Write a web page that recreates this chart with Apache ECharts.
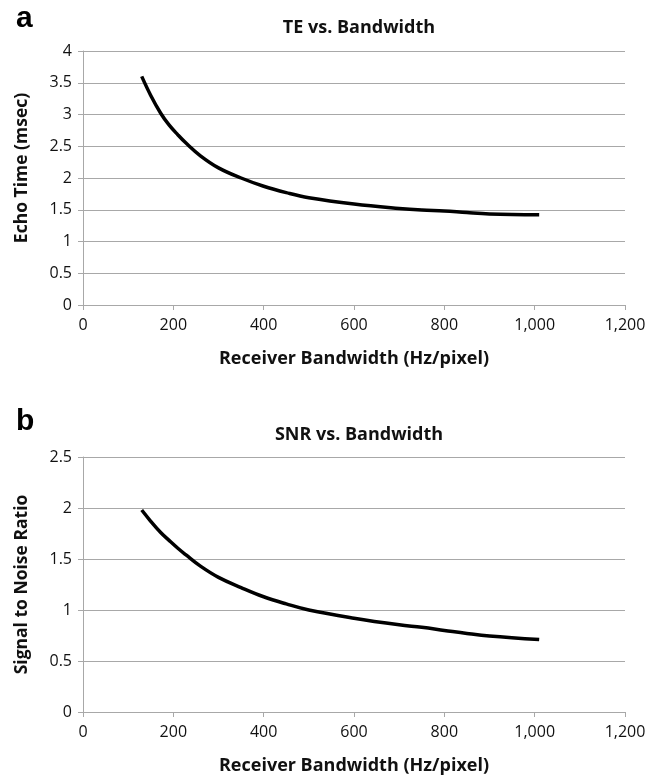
<!DOCTYPE html>
<html>
<head>
<meta charset="utf-8">
<title>TE and SNR vs. Bandwidth</title>
<script src="https://cdn.jsdelivr.net/npm/echarts@6/dist/echarts.min.js"></script>
<style>
  html, body { margin: 0; padding: 0; background: #fff; }
  #chart { width: 662px; height: 779px; }
</style>
</head>
<body>
<div id="chart"></div>
<script>
  // bandwidth (Hz/pixel) sample points
  const bandwidth = [130, 150, 172, 190, 210, 228, 260, 300, 350, 400, 450, 500, 600, 700, 750, 800, 850, 900, 1010];
  const echoTime  = [3.6, 3.3, 3.02, 2.84, 2.68, 2.55, 2.35, 2.16, 2.0, 1.87, 1.77, 1.69, 1.59, 1.52, 1.495, 1.48, 1.455, 1.435, 1.42];
  const snr       = [1.98, 1.87, 1.76, 1.685, 1.605, 1.54, 1.43, 1.32, 1.22, 1.13, 1.06, 1.0, 0.92, 0.855, 0.83, 0.8, 0.77, 0.745, 0.71];

  const xTicks = [0, 200, 400, 600, 800, 1000, 1200];
  const yTicksA = [0, 0.5, 1, 1.5, 2, 2.5, 3, 3.5, 4];
  const yTicksB = [0, 0.5, 1, 1.5, 2, 2.5];

  const font = "'Open Sans', sans-serif";
  const gray = '#a8a8a8';

  const toPairs = (xs, ys) => xs.map((x, i) => [x, ys[i]]);

  function xAxis(gridIndex) {
    return {
      type: 'value', gridIndex: gridIndex,
      min: xTicks[0], max: xTicks[xTicks.length - 1], interval: 200,
      name: 'Receiver Bandwidth (Hz/pixel)', nameLocation: 'middle', nameGap: 45,
      nameTextStyle: { fontFamily: font, fontWeight: 'bold', fontSize: 18, color: '#111' },
      axisLine: { show: true, lineStyle: { color: gray } },
      axisTick: { show: true, length: 5, lineStyle: { color: gray } },
      splitLine: { show: false },
      axisLabel: {
        margin: 12, fontFamily: font, fontSize: 16, color: '#111',
        formatter: v => v.toLocaleString('en-US')
      }
    };
  }

  function yAxis(gridIndex, ticks, name, shift) {
    return {
      type: 'value', gridIndex: gridIndex,
      min: ticks[0], max: ticks[ticks.length - 1], interval: 0.5,
      name: name, nameLocation: 'middle', nameGap: 52,
      nameTextStyle: { fontFamily: font, fontWeight: 'bold', fontSize: 17.5, color: '#111', padding: [0, 0, 0, shift] },
      axisLine: { show: true, lineStyle: { color: gray } },
      axisTick: { show: true, length: 5, lineStyle: { color: gray } },
      splitLine: { show: true, lineStyle: { color: gray, width: 1 } },
      axisLabel: { margin: 11, fontFamily: font, fontSize: 16, color: '#111' }
    };
  }

  const chart = echarts.init(document.getElementById('chart'));
  chart.setOption({
    animation: false,
    title: [
      { text: 'a', left: 11, top: -1, textStyle: { fontFamily: 'Liberation Sans, Arial, sans-serif', fontWeight: 'bold', fontSize: 30, color: '#000' } },
      { text: 'TE vs. Bandwidth', left: 354, textAlign: 'center', top: 14, textStyle: { fontFamily: font, fontWeight: 'bold', fontSize: 18, color: '#111' } },
      { text: 'b', left: 11, top: 402, textStyle: { fontFamily: 'Liberation Sans, Arial, sans-serif', fontWeight: 'bold', fontSize: 30, color: '#000' } },
      { text: 'SNR vs. Bandwidth', left: 354, textAlign: 'center', top: 421, textStyle: { fontFamily: font, fontWeight: 'bold', fontSize: 18, color: '#111' } }
    ],
    grid: [
      { left: 83, width: 542, top: 51, height: 254 },
      { left: 83, width: 542, top: 457, height: 255 }
    ],
    xAxis: [xAxis(0), xAxis(1)],
    yAxis: [yAxis(0, yTicksA, 'Echo Time (msec)', 20), yAxis(1, yTicksB, 'Signal to Noise Ratio', 0)],
    series: [
      {
        type: 'line', xAxisIndex: 0, yAxisIndex: 0, smooth: 0.4, showSymbol: false,
        lineStyle: { color: '#000', width: 3.5 },
        data: toPairs(bandwidth, echoTime)
      },
      {
        type: 'line', xAxisIndex: 1, yAxisIndex: 1, smooth: 0.4, showSymbol: false,
        lineStyle: { color: '#000', width: 3.5 },
        data: toPairs(bandwidth, snr)
      }
    ]
  });
</script>
</body>
</html>
